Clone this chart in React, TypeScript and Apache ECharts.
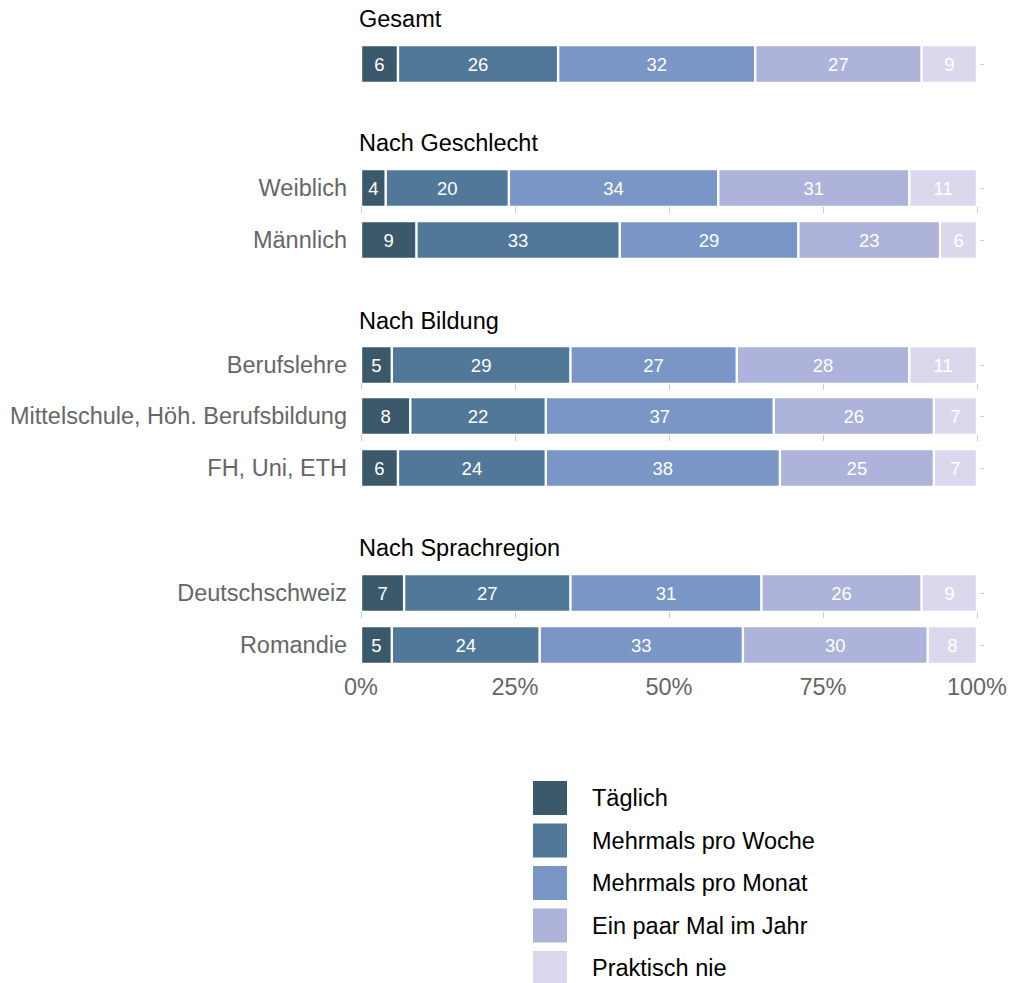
import React, { useEffect, useRef } from "react";
import * as echarts from "echarts";

const rows = [
  "",
  "Weiblich",
  "Männlich",
  "Berufslehre",
  "Mittelschule, Höh. Berufsbildung",
  "FH, Uni, ETH",
  "Deutschschweiz",
  "Romandie",
];
const panelTitles = ["Gesamt", "Nach Geschlecht", "Nach Bildung", "Nach Sprachregion"];
const categories = [
  "Täglich",
  "Mehrmals pro Woche",
  "Mehrmals pro Monat",
  "Ein paar Mal im Jahr",
  "Praktisch nie",
];
const taeglich = [6, 4, 9, 5, 8, 6, 7, 5];
const proWoche = [26, 20, 33, 29, 22, 24, 27, 24];
const proMonat = [32, 34, 29, 27, 37, 38, 31, 33];
const imJahr = [27, 31, 23, 28, 26, 25, 26, 30];
const nie = [9, 11, 6, 11, 7, 7, 9, 8];
const xTicks = [0, 25, 50, 75, 100];

const values = [taeglich, proWoche, proMonat, imJahr, nie];
const colors = ["#3b596b", "#527899", "#7a96c6", "#adb3da", "#dbd8ee"];

// layout
const rowTops = [45, 169, 221, 346, 397, 449, 574, 626];
const titleTops = [7, 131, 309, 536];
const tickRows = [1, 3, 4, 6];
const BAR_H = 38;
const LEFT = 361;
const RIGHT = 33;
const FONT = "'Liberation Sans', Arial, Helvetica, sans-serif";
const BIG = 23.5;

export default function App() {
  const ref = useRef<HTMLDivElement>(null);
  useEffect(() => {
    if (!ref.current) return;
    const chart = echarts.init(ref.current, undefined, { renderer: "svg" });
    const grids: any[] = [];
    const xAxes: any[] = [];
    const yAxes: any[] = [];
    const series: any[] = [];
    rows.forEach((r, i) => {
      grids.push({ left: LEFT, right: RIGHT, top: rowTops[i], height: BAR_H });
      const last = i === rows.length - 1;
      const showTick = tickRows.includes(i);
      xAxes.push({
        type: "value",
        gridIndex: i,
        min: xTicks[0],
        max: xTicks[xTicks.length - 1],
        interval: 25,
        splitLine: { show: false },
        axisLine: { show: false },
        axisTick: {
          show: showTick,
          length: 6,
          lineStyle: { color: "#cccccc", width: 1 },
        },
        axisLabel: {
          show: last,
          formatter: "{value}%",
          fontSize: BIG,
          color: "#666666",
          fontFamily: FONT,
          margin: 11,
        },
      });
      yAxes.push({
        type: "category",
        gridIndex: i,
        data: [r],
        axisLine: { show: false },
        axisTick: { show: false },
        axisLabel: { fontSize: BIG, color: "#666666", fontFamily: FONT, margin: 14 },
      });
      yAxes.push({
        type: "category",
        gridIndex: i,
        position: "right",
        data: [r],
        offset: 3,
        axisLine: { show: false },
        axisTick: { show: true, length: 4, alignWithLabel: true, lineStyle: { color: "#cccccc" } },
        axisLabel: { show: false },
      });
      categories.forEach((c, k) => {
        series.push({
          type: "bar",
          name: c,
          xAxisIndex: i,
          yAxisIndex: i * 2,
          stack: "s" + i,
          barWidth: "100%",
          data: [values[k][i]],
          itemStyle: { color: colors[k], borderColor: "#ffffff", borderWidth: 1.2 },
          label: {
            show: true,
            position: "inside",
            color: "#ffffff",
            fontSize: 18.5,
            fontFamily: FONT,
          },
        });
      });
    });
    chart.setOption({
      animation: false,
      backgroundColor: "#ffffff",
      title: panelTitles.map((t, i) => ({
        text: t,
        left: 359,
        top: titleTops[i],
        padding: 0,
        textStyle: { fontSize: BIG, fontWeight: "normal", color: "#000000", fontFamily: FONT },
      })),
      legend: {
        data: categories,
        orient: "vertical",
        left: 533,
        top: 781,
        height: 300,
        padding: 0,
        itemWidth: 34,
        itemHeight: 34,
        itemGap: 8.5,
        icon: "rect",
        itemStyle: { borderWidth: 0 },
        textStyle: { fontSize: BIG, color: "#000000", fontFamily: FONT, padding: [0, 0, 0, 20] },
      },
      grid: grids,
      xAxis: xAxes,
      yAxis: yAxes,
      series,
    });
    return () => chart.dispose();
  }, []);
  return <div ref={ref} style={{ width: 1010, height: 983, position: "absolute", left: 0, top: 0 }} />;
}
